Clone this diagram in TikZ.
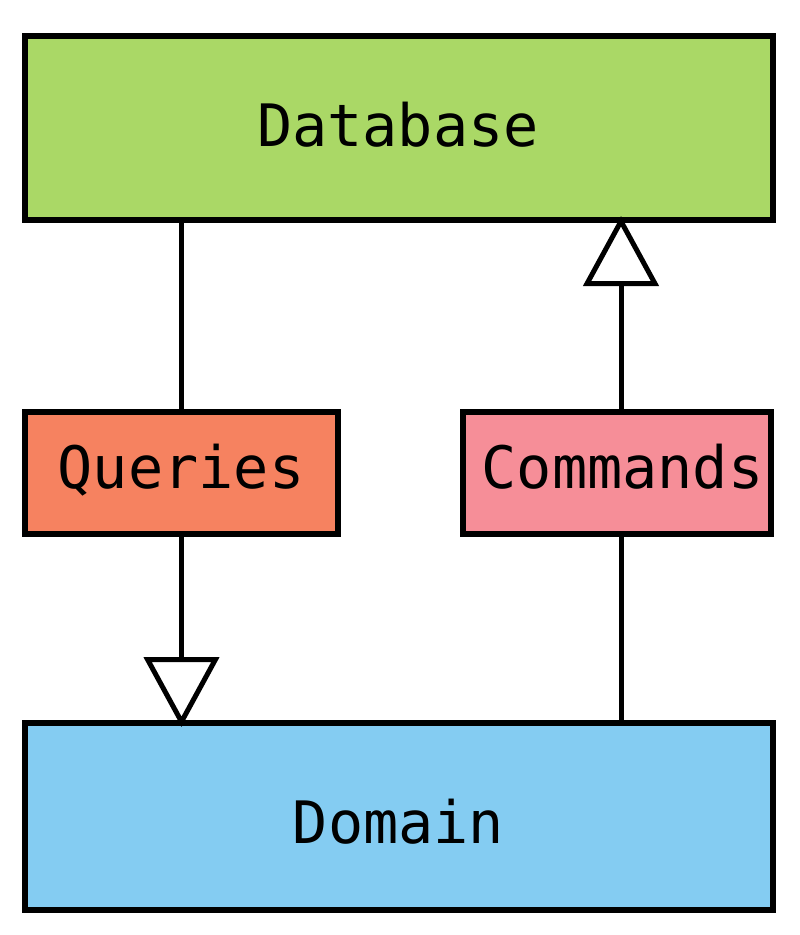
\documentclass[tikz,border=0pt]{standalone}
\usepackage{fontspec}
\setmonofont{DejaVu Sans Mono}
\usetikzlibrary{arrows.meta}
\definecolor{dbgreen}{RGB}{170,216,102}
\definecolor{qorange}{RGB}{246,130,96}
\definecolor{cpink}{RGB}{246,142,152}
\definecolor{dblue}{RGB}{132,204,242}
\tikzset{
  box/.style={draw=black, line width=6pt, rectangle, inner sep=0pt},
  lbl/.style={inner sep=0pt, text height=42.6pt, text depth=0pt,
    font=\fontsize{58.5}{60}\selectfont\ttfamily, text=black},
  conn/.style={draw=black, line width=5pt},
  inherit/.style={conn, shorten >=-7pt, -{Triangle[open, length=70pt, width=75pt]}}
}
\begin{document}
\begin{tikzpicture}[x=1pt, y=-1pt]
\useasboundingbox (0,0) rectangle (800,935);
\node[box, fill=dbgreen, minimum width=748pt, minimum height=184pt] (db) at (399,128) {};
\node[box, fill=qorange, minimum width=313pt, minimum height=122pt] (q) at (181.5,473) {};
\node[box, fill=cpink, minimum width=308pt, minimum height=122pt] (c) at (617,473) {};
\node[box, fill=dblue, minimum width=748pt, minimum height=187pt] (d) at (399,816.5) {};
\node[lbl] (dbt) at (398,125) {Database};
\node[lbl] (qt) at (181,467) {Queries};
\node[lbl] (ct) at (622.5,467.5) {Commands};
\node[lbl] (dt) at (398.5,822) {Domain};
\draw[conn] (q.north) -- (q.north |- db.south);
\draw[inherit] (q.south) -- (q.south |- d.north);
\draw[inherit] ([xshift=4pt]c.north) -- ([xshift=4pt]c.north |- db.south);
\draw[conn] ([xshift=4pt]c.south) -- ([xshift=4pt]c.south |- d.north);
\end{tikzpicture}
\end{document}
